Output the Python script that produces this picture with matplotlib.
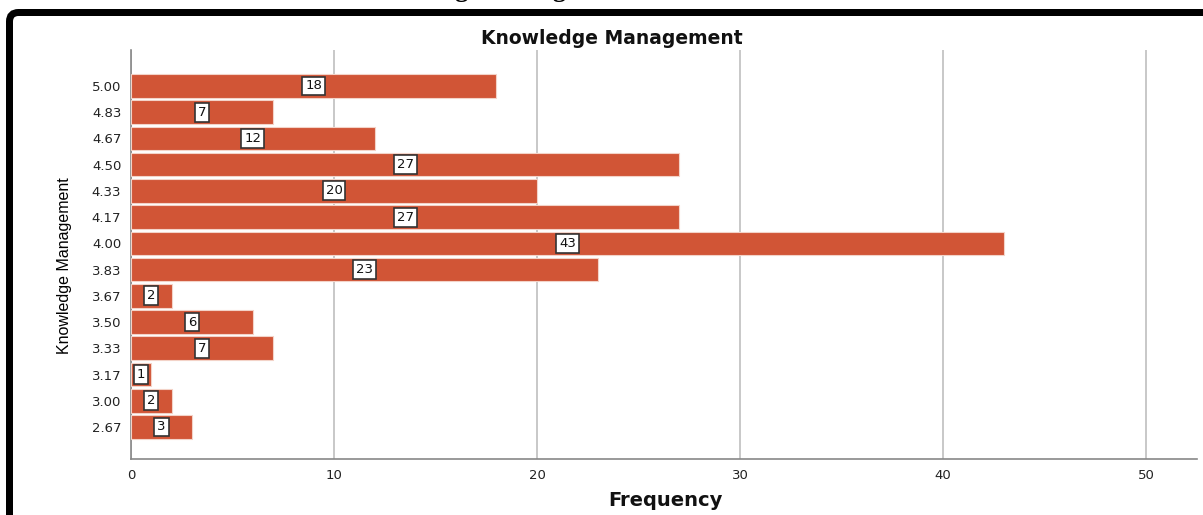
import matplotlib.pyplot as plt
from matplotlib.patches import FancyBboxPatch

# frequency table for the Knowledge Management score
scores = ["2.67", "3.00", "3.17", "3.33", "3.50", "3.67", "3.83",
          "4.00", "4.17", "4.33", "4.50", "4.67", "4.83", "5.00"]
counts = [3, 2, 1, 7, 6, 2, 23, 43, 27, 20, 27, 12, 7, 18]
xticks = [0, 10, 20, 30, 40, 50]

bar_color = "#d15536"
W, H = 1203, 515

fig = plt.figure(figsize=(W / 100, H / 100), dpi=100)
ax = fig.add_axes([131 / W, 1 - 459 / H, 1066 / W, 409 / H])

pos = list(range(len(scores)))
ax.barh(pos, counts, height=0.9, color=bar_color, edgecolor="#f3d3c8",
        linewidth=0.8, zorder=3)

# value boxes in the middle of each bar
for y, c in zip(pos, counts):
    ax.text(c / 2, y, str(c), ha="center", va="center", fontsize=9.5,
            color="#111111", zorder=4,
            bbox=dict(boxstyle="square,pad=0.22", fc="white", ec="#333333", lw=1.2))

ax.set_xlim(0, 52.5)
ax.set_ylim(-1.22, len(scores) - 1 + 1.37)
ax.set_yticks(pos)
ax.set_yticklabels(scores)
ax.set_xticks(xticks)
ax.tick_params(axis="both", length=0, labelsize=9.5, colors="#222222")
ax.tick_params(axis="y", pad=7)
ax.tick_params(axis="x", pad=7)

ax.grid(axis="x", color="#c8c8c8", linewidth=1.4, zorder=0)
for s in ["top", "right"]:
    ax.spines[s].set_visible(False)
for s in ["left", "bottom"]:
    ax.spines[s].set_color("#888888")
    ax.spines[s].set_linewidth(1.2)

fig.text(612 / W, 1 - 39 / H, "Knowledge Management", ha="center", va="center",
         fontsize=13.5, fontweight="bold", color="#111111")
fig.text(665 / W, 1 - 501 / H, "Frequency", ha="center", va="center",
         fontsize=14, fontweight="bold", color="#111111")
fig.text(64 / W, 1 - 266 / H, "Knowledge Management", rotation=90,
         ha="center", va="center", fontsize=11.5, color="#000000",
         fontweight="medium", fontstretch="condensed",
         family=["Liberation Sans Narrow", "Liberation Sans", "DejaVu Sans"])

# heading of the page above, cut by the top edge
fig.text(354 / W, 1 + 3 / H, "Knowledge Management", ha="left", va="baseline",
         fontsize=19, fontweight="bold", family=["Liberation Serif", "DejaVu Serif"])

# black window frame
frame = FancyBboxPatch((9.5, -60), 1400, H - 12.5 + 60,
                       boxstyle="round,pad=0,rounding_size=9",
                       fc="none", ec="black", lw=7 * 72 / 100, transform=None)
fig.add_artist(frame)

fig.savefig("out.png", dpi=100, facecolor="white")
